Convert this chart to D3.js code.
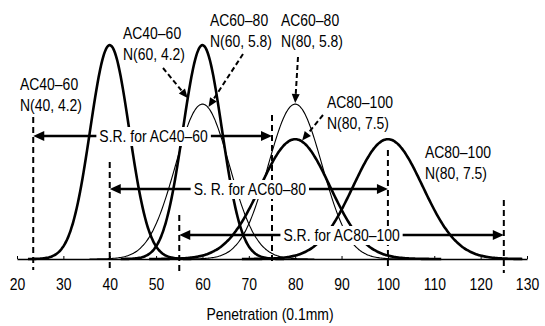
<!DOCTYPE html>
<html>
<head>
<meta charset="utf-8">
<script src="https://cdn.jsdelivr.net/npm/d3@7"></script>
<style>
  body { margin: 0; background: #fff; }
  text { font-family: "Liberation Sans", Arial, sans-serif; fill: #000; }
</style>
</head>
<body>
<div id="chart"></div>
<script>
// 正規分布のパラメータ (平均, 標準偏差)
var means = [40, 60, 60, 80, 80, 100];
var sds = [4.2, 4.2, 5.8, 5.8, 7.5, 7.5];
var bold = [true, true, false, false, true, true];

// 規格範囲 S.R.
var srNames = ['S.R. for AC40–60', 'S. R. for AC60–80', 'S.R. for AC80–100'];
var srLow = [23.5, 40, 55];
var srHigh = [75, 100, 125];

// 目盛
var tickValues = [20, 30, 40, 50, 60, 70, 80, 90, 100, 110, 120, 130];

// 注記
var annoGrade = ['AC40–60', 'AC40–60', 'AC60–80', 'AC60–80', 'AC80–100', 'AC80–100'];
var annoDist = ['N(40, 4.2)', 'N(60, 4.2)', 'N(60, 5.8)', 'N(80, 5.8)', 'N(80, 7.5)', 'N(80, 7.5)'];

var width = 545;
var height = 326;
var fontSize = 17;
var squeezeRate = 0.82;

var svg = d3.select('#chart').append('svg')
  .attr('width', width).attr('height', height);

var x = d3.scaleLinear().domain([20, 130]).range([17, 527]);
var y = d3.scaleLinear().domain([0, 0.095]).range([259, 45]);

function pdf(v, m, s) {
  return Math.exp(-0.5 * Math.pow((v - m) / s, 2)) / (s * Math.sqrt(2 * Math.PI));
}

// 縦長の字形に見せるため横方向だけ縮める
function squeeze(sel) {
  sel.each(function() {
    var len = this.getComputedTextLength();
    d3.select(this)
      .attr('textLength', len * squeezeRate)
      .attr('lengthAdjust', 'spacingAndGlyphs');
  });
}

// 曲線
var line = d3.line()
  .x(function(d) { return x(d[0]); })
  .y(function(d) { return y(d[1]); })
  .curve(d3.curveBasis);

var curveG = svg.append('g');
means.forEach(function(m, i) {
  var s = sds[i];
  var lo = Math.max(20, m - 4.2 * s);
  var hi = Math.min(129, m + 4.2 * s);
  var pts = d3.range(lo, hi + 0.001, 0.25).map(function(v) { return [v, pdf(v, m, s)]; });
  curveG.append('path')
    .attr('d', line(pts))
    .attr('fill', 'none')
    .attr('stroke', '#000')
    .attr('stroke-width', bold[i] ? 2.6 : 1.1);
});

// x軸
var axis = d3.axisBottom(x)
  .tickValues(tickValues)
  .tickSizeInner(-3)
  .tickSizeOuter(0)
  .tickPadding(21)
  .tickFormat(d3.format('d'));

var axisG = svg.append('g')
  .attr('transform', 'translate(0,259)')
  .call(axis);
axisG.select('.domain').attr('stroke', '#000').attr('stroke-width', 1.6);
axisG.selectAll('.tick line').attr('stroke', '#000');
axisG.selectAll('.tick text')
  .attr('font-size', fontSize)
  .attr('font-family', '"Liberation Sans", Arial, sans-serif')
  .attr('dy', '0.6em')
  .call(squeeze);

svg.append('text')
  .attr('x', 270).attr('y', 320)
  .attr('text-anchor', 'middle')
  .attr('font-size', fontSize)
  .text('Penetration (0.1mm)')
  .call(squeeze);

// 規格範囲の矢印
var srY = [136, 189, 235];
var dashTop = [[117, 115], [162, 150], [215, 200]];
var dashBottom = [[270, 262], [268, 268], [272, 273]];

function arrowHead(g, tipX, tipY, dir, len, half) {
  g.append('path')
    .attr('d', 'M' + tipX + ',' + tipY +
      'L' + (tipX - dir * len) + ',' + (tipY - half) +
      'L' + (tipX - dir * len) + ',' + (tipY + half) + 'Z')
    .attr('fill', '#000');
}

var srG = svg.append('g');
srNames.forEach(function(name, i) {
  var x0 = x(srLow[i]);
  var x1 = x(srHigh[i]);
  var yy = srY[i];
  // 破線
  [x0, x1].forEach(function(xx, k) {
    srG.append('line')
      .attr('x1', xx).attr('x2', xx)
      .attr('y1', dashTop[i][k]).attr('y2', dashBottom[i][k])
      .attr('stroke', '#000')
      .attr('stroke-width', 2)
      .attr('stroke-dasharray', '6,4');
  });
  srG.append('line')
    .attr('x1', x0 + 8).attr('x2', x1 - 8)
    .attr('y1', yy).attr('y2', yy)
    .attr('stroke', '#000')
    .attr('stroke-width', 2.6);
  arrowHead(srG, x0, yy, -1, 11, 5);
  arrowHead(srG, x1, yy, 1, 11, 5);
  var t = srG.append('text')
    .attr('x', (x0 + x1) / 2 + [1, 1, 0][i])
    .attr('y', yy + 6)
    .attr('text-anchor', 'middle')
    .attr('font-size', fontSize)
    .text(name)
    .call(squeeze);
  var bb = t.node().getBBox();
  srG.insert('rect', function() { return t.node(); })
    .attr('x', bb.x - 3).attr('y', bb.y)
    .attr('width', bb.width + 6).attr('height', bb.height)
    .attr('fill', '#fff');
});

// 分布の注記
var annoX = [20, 123, 210, 281, 327, 425];
var annoY = [90, 39, 26, 26, 108, 158];
var annoG = svg.append('g');
annoGrade.forEach(function(g, i) {
  annoG.append('text')
    .attr('x', annoX[i]).attr('y', annoY[i])
    .attr('font-size', fontSize)
    .text(g)
    .call(squeeze);
  annoG.append('text')
    .attr('x', annoX[i]).attr('y', annoY[i] + 21)
    .attr('font-size', fontSize)
    .text(annoDist[i])
    .call(squeeze);
});

// 注記から曲線への破線矢印 (曲線番号, 指す位置, 始点)
var pointCurve = [1, 2, 3, 4];
var pointAt = [56.8, 61.3, 80, 81.5];
var pointFrom = [[163, 68], [243, 54], [298, 57], [323, 115]];
pointCurve.forEach(function(c, i) {
  var tx = x(pointAt[i]);
  var ty = y(pdf(pointAt[i], means[c], sds[c])) - 1;
  var fx = pointFrom[i][0];
  var fy = pointFrom[i][1];
  var ang = Math.atan2(ty - fy, tx - fx);
  var len = 9;
  var bx = tx - len * Math.cos(ang);
  var by = ty - len * Math.sin(ang);
  annoG.append('line')
    .attr('x1', fx).attr('y1', fy)
    .attr('x2', bx).attr('y2', by)
    .attr('stroke', '#000')
    .attr('stroke-width', 2)
    .attr('stroke-dasharray', '5,3');
  var px = -Math.sin(ang) * 4;
  var py = Math.cos(ang) * 4;
  annoG.append('path')
    .attr('d', 'M' + tx + ',' + ty + 'L' + (bx + px) + ',' + (by + py) + 'L' + (bx - px) + ',' + (by - py) + 'Z')
    .attr('fill', '#000');
});
</script>
</body>
</html>
